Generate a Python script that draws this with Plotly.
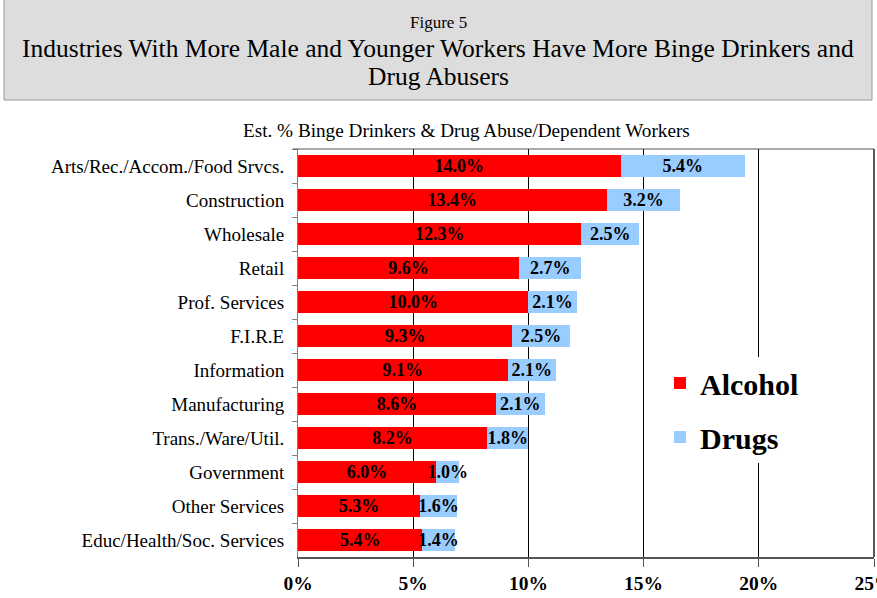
import plotly.graph_objects as go

categories = ["Arts/Rec./Accom./Food Srvcs.", "Construction", "Wholesale", "Retail",
              "Prof. Services", "F.I.R.E", "Information", "Manufacturing",
              "Trans./Ware/Util.", "Government", "Other Services", "Educ/Health/Soc. Services"]
alcohol = [14.0, 13.4, 12.3, 9.6, 10.0, 9.3, 9.1, 8.6, 8.2, 6.0, 5.3, 5.4]
drugs = [5.4, 3.2, 2.5, 2.7, 2.1, 2.5, 2.1, 2.1, 1.8, 1.0, 1.6, 1.4]
x_ticks = [0, 5, 10, 15, 20, 25]
x_tick_labels = ["0%", "5%", "10%", "15%", "20%", "25%"]
x_max = 25

SERIF = "'Liberation Serif', 'Times New Roman', Times, serif"
RED, BLUE = "#ff0000", "#99ccff"

W, H = 877, 598
L, R, T, B = 298, 874, 149, 557
pw, ph = R - L, B - T


def px_x(x):
    return (x - L) / pw


def px_y(y):
    return (B - y) / ph


LABEL_FONT = dict(family=SERIF, size=18, color="black", weight="bold")

fig = go.Figure()
fig.add_trace(go.Bar(
    y=categories, x=alcohol, name="Alcohol", orientation="h", showlegend=False,
    marker=dict(color=RED, line=dict(width=0)),
    text=[f"{v:.1f}%" for v in alcohol], textposition="inside", textangle=0,
    insidetextanchor="middle", insidetextfont=LABEL_FONT,
    hoverinfo="skip",
))
fig.add_trace(go.Bar(
    y=categories, x=drugs, name="Drugs", orientation="h", showlegend=False,
    marker=dict(color=BLUE, line=dict(width=0)),
    text=[f"{v:.1f}%" for v in drugs], textposition="inside", textangle=0,
    insidetextanchor="middle", insidetextfont=LABEL_FONT,
    hoverinfo="skip",
))
# legend entries (larger square swatches)
for nm, col, grp in [("Alcohol", RED, "a"), ("Drugs", BLUE, "d")]:
    fig.add_trace(go.Scatter(
        x=[None], y=[None], mode="markers", name=nm, legendgroup=grp,
        marker=dict(symbol="square", size=17, color=col, line=dict(width=0)),
        hoverinfo="skip",
    ))

fig.update_layout(
    width=W, height=H,
    margin=dict(l=L, r=W - R, t=T, b=H - B, autoexpand=False),
    paper_bgcolor="white", plot_bgcolor="white",
    barmode="stack", bargap=0.36,
    uniformtext=dict(minsize=18, mode="show"),
    font=dict(family=SERIF, color="black"),
    showlegend=True,
    legend=dict(
        x=px_x(660), y=px_y(357), xanchor="left", yanchor="top",
        bgcolor="white", borderwidth=0, traceorder="grouped",
        font=dict(family=SERIF, size=30, color="black", weight="bold"),
        tracegroupgap=12, itemsizing="constant", itemwidth=30,
    ),
    xaxis=dict(
        range=[0, x_max], tickvals=x_ticks, ticktext=x_tick_labels,
        tickfont=dict(family=SERIF, size=19.5, color="black", weight="bold"),
        ticklabeloverflow="allow",
        showgrid=True, gridcolor="black", gridwidth=1,
        showline=True, linecolor="#555555", linewidth=2, mirror=False,
        ticks="outside", ticklen=8, tickcolor="#555555",
        zeroline=False, fixedrange=True,
    ),
    yaxis=dict(
        autorange="reversed",
        tickfont=dict(family=SERIF, size=19, color="black"),
        showline=True, linecolor="#808080", linewidth=1,
        ticks="outside", ticklen=5, tickcolor="#808080", tickson="boundaries",
        showgrid=False, fixedrange=True, ticklabelstandoff=9,
    ),
    shapes=[
        dict(type="rect", xref="paper", yref="paper",
             x0=px_x(4), x1=px_x(872), y0=px_y(100), y1=px_y(-10),
             fillcolor="#dddddd", line=dict(color="#999999", width=1), layer="below"),
        dict(type="line", xref="paper", yref="paper",
             x0=px_x(293), x1=1, y0=1, y1=1,
             line=dict(color="#555555", width=1)),
        dict(type="line", xref="paper", yref="paper",
             x0=1, x1=1, y0=0, y1=1,
             line=dict(color="#222222", width=1.5)),
    ],
    annotations=[
        dict(text="Figure 5", xref="paper", yref="paper", x=px_x(438), y=px_y(22),
             showarrow=False, font=dict(family=SERIF, size=17, color="black"),
             xanchor="center", yanchor="middle"),
        dict(text="Industries With More Male and Younger Workers Have More Binge Drinkers and",
             xref="paper", yref="paper", x=px_x(438), y=px_y(48),
             showarrow=False, font=dict(family=SERIF, size=25.5, color="black"),
             xanchor="center", yanchor="middle"),
        dict(text="Drug Abusers",
             xref="paper", yref="paper", x=px_x(438), y=px_y(77),
             showarrow=False, font=dict(family=SERIF, size=25.5, color="black"),
             xanchor="center", yanchor="middle"),
        dict(text="Est. % Binge Drinkers & Drug Abuse/Dependent Workers",
             xref="paper", yref="paper", x=px_x(466), y=px_y(131),
             showarrow=False, font=dict(family=SERIF, size=19.2, color="black"),
             xanchor="center", yanchor="middle"),
    ],
)

fig.write_html(
    "out.html",
    config={"displayModeBar": False},
    post_script="document.body.style.margin='0';document.body.style.overflow='hidden';",
)
